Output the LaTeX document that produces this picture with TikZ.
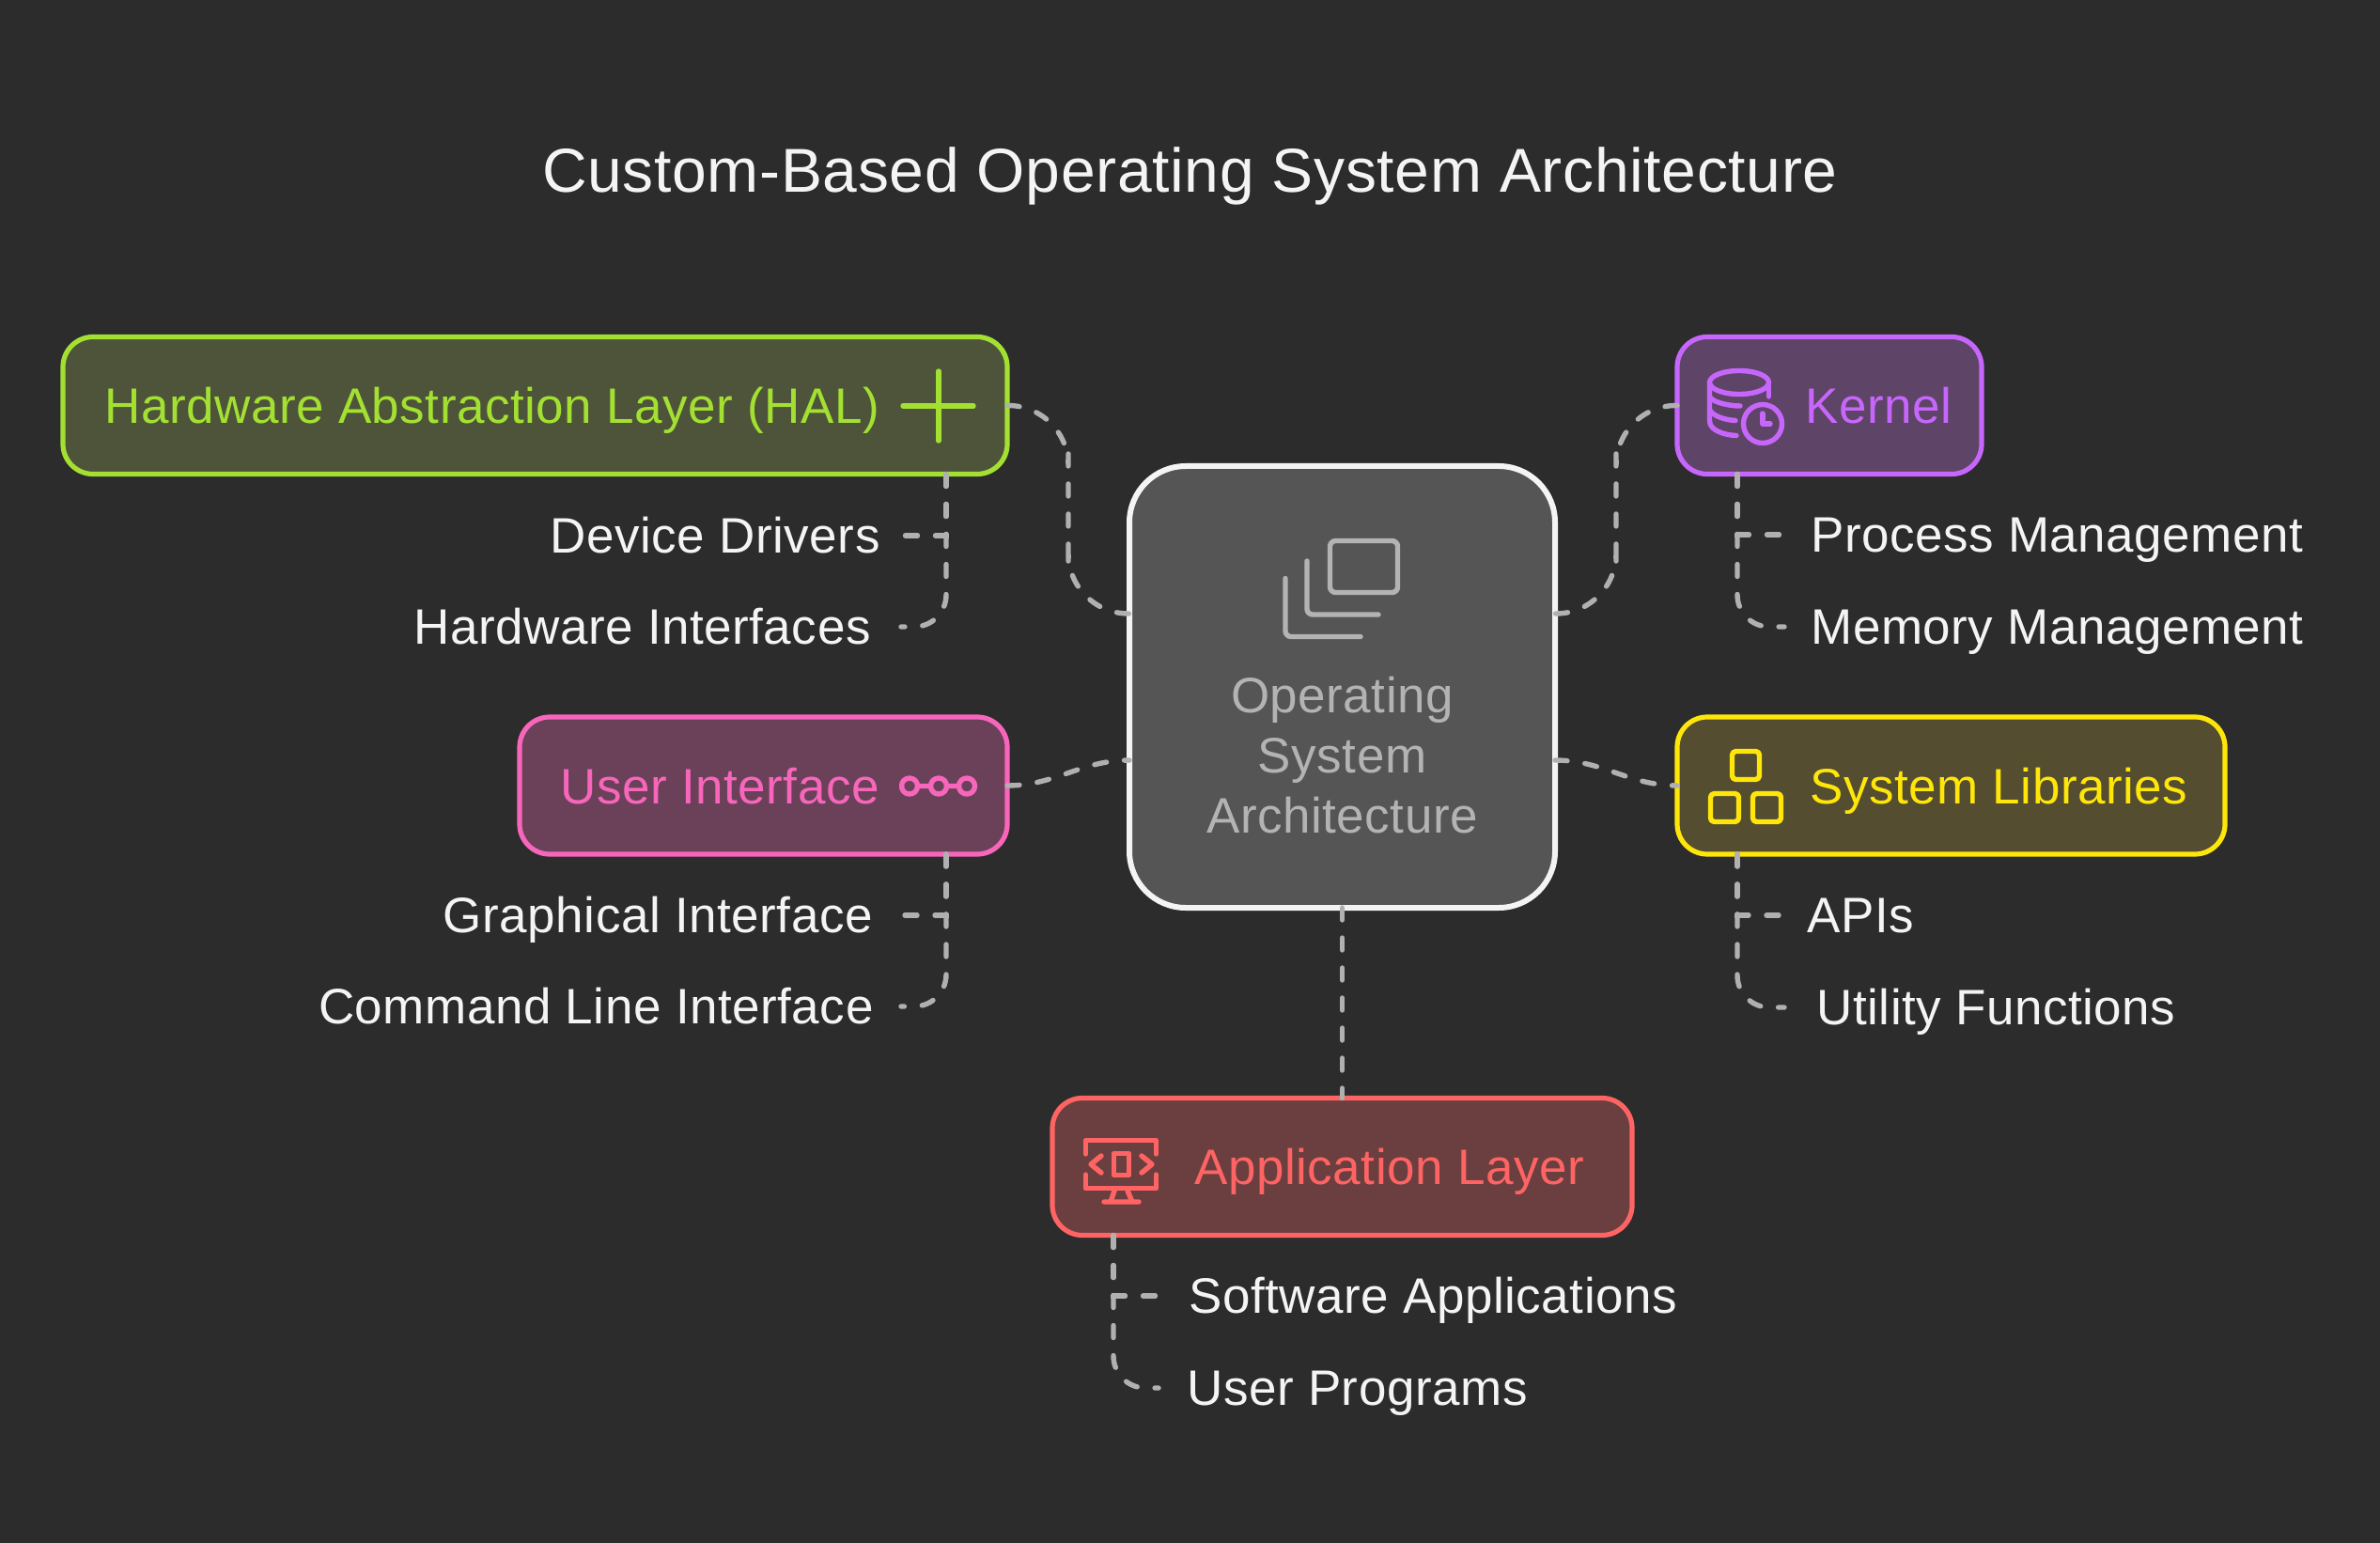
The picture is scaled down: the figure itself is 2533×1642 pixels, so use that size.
\documentclass[tikz,border=0pt]{standalone}
\usepackage{fontspec}
\setmainfont[LetterSpace=1]{Liberation Sans}
\usetikzlibrary{positioning}
\definecolor{bgc}{HTML}{2C2C2C}
\definecolor{dashc}{HTML}{B0B0B0}
\definecolor{subc}{HTML}{F4F4F4}
\definecolor{osc}{HTML}{B3B3B3}
\definecolor{osf}{HTML}{555555}
\definecolor{halc}{HTML}{A3E032}
\definecolor{half}{HTML}{4D5439}
\definecolor{kerc}{HTML}{C766FB}
\definecolor{kerf}{HTML}{5E4466}
\definecolor{libc}{HTML}{FFE60A}
\definecolor{libf}{HTML}{544D2F}
\definecolor{uic}{HTML}{F766BB}
\definecolor{uif}{HTML}{6B415A}
\definecolor{appc}{HTML}{FF6464}
\definecolor{appf}{HTML}{6B3F3F}
\begin{document}
\begin{tikzpicture}[x=0.5pt,y=-0.5pt,
	box/.style = {draw, rounded corners=16pt, line width=2.6pt, inner sep=0pt, outer sep=0pt, minimum height=73pt},
	boxtext/.style = {font=\fontsize{26.5}{32}\selectfont, inner sep=0pt, text height=19pt, text depth=0pt},
	sub/.style = {boxtext, text=subc, text height=18pt},
	conn/.style = {draw=dashc, line width=2.7pt, line cap=round, dash pattern=on 6.5pt off 9.5pt},
	icon/.style = {line width=2.7pt, line cap=round, line join=round}]
	\fill[bgc] (0,0) rectangle (2533,1642);
	\useasboundingbox (0,0) rectangle (2533,1642);
	\node[font=\fontsize{33}{40}\selectfont, text=subc, inner sep=0pt, text height=23.6pt, text depth=0pt] (title) at (1266.5,181) {Custom-Based Operating System Architecture};
	% centre
	\node[draw=subc, fill=osf, rounded corners=30pt, line width=3pt, inner sep=0pt, outer sep=0pt, minimum width=226.5pt, minimum height=235pt] (os) at (1428.5,731) {};
	\node[font=\fontsize{26.5}{32}\selectfont, text=osc, align=center, inner sep=0pt] (oslabel) at (1428.5,804) {Operating\\System\\Architecture};
	\draw[osc, icon, rounded corners=3pt] (1415.5,575.5) rectangle (1487.5,630.5);
	\draw[osc, icon, rounded corners=3pt] (1391,597) -- (1391,654) -- (1467,654);
	\draw[osc, icon, rounded corners=3pt] (1368,615.5) -- (1368,677.5) -- (1448,677.5);
	% boxes
	\node[box, draw=halc, fill=half, minimum width=502.5pt] (hal) at (569.5,431.5) {};
	\node[box, draw=kerc, fill=kerf, minimum width=162pt] (kernel) at (1947,431.5) {};
	\node[box, draw=uic, fill=uif, minimum width=259.5pt] (ui) at (812.5,836) {};
	\node[box, draw=libc, fill=libf, minimum width=291.5pt] (lib) at (2076.5,836) {};
	\node[box, draw=appc, fill=appf, minimum width=308.5pt] (app) at (1428.5,1241.5) {};
	\node[boxtext, text=halc, anchor=west] (hallabel) at (111,431.5) {Hardware Abstraction Layer (HAL)};
	\node[boxtext, text=kerc, anchor=west] (kernellabel) at (1921,431.5) {Kernel};
	\node[boxtext, text=uic, anchor=west] (uilabel) at (596,836) {User Interface};
	\node[boxtext, text=libc, anchor=west] (liblabel) at (1926,836) {System Libraries};
	\node[boxtext, text=appc, anchor=west] (applabel) at (1271,1241.5) {Application Layer};
	% icons
	\draw[halc, icon] (961,432) -- (1036,432) (999,395) -- (999,469);
	\draw[uic, icon] (968,836.5) circle (8.5) (999,836.5) circle (8.5) (1029,836.5) circle (8.5) (976.5,836.5) -- (990.5,836.5) (1007.5,836.5) -- (1020.5,836.5);
	\draw[kerc, icon] (1851,407) ellipse [x radius=31.5, y radius=12.5];
	\draw[kerc, icon] (1882.5,407) -- (1882.5,422);
	\draw[kerc, icon] (1819.5,407) -- (1819.5,448) .. controls (1819.5,458) and (1835,463) .. (1848,463.5);
	\draw[kerc, icon] (1819.5,422) .. controls (1822,428) and (1840,432) .. (1852,432);
	\draw[kerc, icon] (1819.5,436) .. controls (1822,442) and (1835,447) .. (1847,447.5);
	\draw[kerc, icon] (1876,451) circle (20.5);
	\draw[kerc, icon] (1876,440) -- (1876,451) -- (1884,451);
	\draw[libc, icon, rounded corners=2pt] (1843.5,799.5) rectangle (1872.5,829.5);
	\draw[libc, icon, rounded corners=2pt] (1820.5,844.5) rectangle (1850.5,874.5);
	\draw[libc, icon, rounded corners=2pt] (1865.5,844.5) rectangle (1895.5,874.5);
	\draw[appc, icon] (1155.5,1228) -- (1155.5,1213.5) -- (1230.5,1213.5) -- (1230.5,1228);
	\draw[appc, icon] (1155.5,1250) -- (1155.5,1264.5) -- (1230.5,1264.5) -- (1230.5,1250);
	\draw[appc, icon] (1185.5,1227.5) rectangle (1201.5,1250.5);
	\draw[appc, icon] (1172,1230) -- (1161,1239) -- (1172,1248);
	\draw[appc, icon] (1215,1230) -- (1226,1239) -- (1215,1248);
	\draw[appc, icon] (1186,1267) -- (1182,1279) (1200,1267) -- (1205,1279) (1175,1279) -- (1212,1279);
	% main connectors
	\coordinate (osnw) at ([yshift=39pt]os.west);
	\coordinate (ossw) at ([yshift=-39pt]os.west);
	\coordinate (osne) at ([yshift=39pt]os.east);
	\coordinate (osse) at ([yshift=-39pt]os.east);
	\coordinate (halbend) at (1137,540);
	\coordinate (kerbend) at (1720,540);
	\draw[conn, rounded corners=32pt] (hal.east) -| (halbend) |- (osnw);
	\draw[conn, rounded corners=32pt] (kernel.west) -| (kerbend) |- (osne);
	\draw[conn] (ui.east) to[out=0, in=180] (ossw);
	\draw[conn] (osse) to[out=0, in=180] (lib.west);
	\draw[conn] (os.south) -- (app.north);
	% sub items
	\coordinate (halfoot) at ([xshift=-32.5pt]hal.south east);
	\coordinate (uifoot) at ([xshift=-32.5pt]ui.south east);
	\coordinate (kerfoot) at ([xshift=32pt]kernel.south west);
	\coordinate (libfoot) at ([xshift=32pt]lib.south west);
	\coordinate (appfoot) at ([xshift=32.5pt]app.south west);
	\coordinate (ddend) at (959,570);
	\coordinate (hwend) at (959,667);
	\coordinate (giend) at (959,974);
	\coordinate (clend) at (959,1071);
	\coordinate (pmend) at (1897,569);
	\coordinate (mmend) at (1899,667);
	\coordinate (apiend) at (1897,974);
	\coordinate (ufend) at (1899,1072);
	\coordinate (saend) at (1233,1379);
	\coordinate (upend) at (1233,1477);
	\node[sub] (dd) [left=11pt of ddend] {Device Drivers};
	\node[sub] (hw) [left=16pt of hwend] {Hardware Interfaces};
	\node[sub] (gi) [left=15pt of giend] {Graphical Interface};
	\node[sub] (cl) [left=14.5pt of clend] {Command Line Interface};
	\node[sub] (pm) [right=15pt of pmend] {Process Management};
	\node[sub] (mm) [right=14pt of mmend] {Memory Management};
	\node[sub] (api) [right=13pt of apiend] {APIs};
	\node[sub] (uf) [right=17pt of ufend] {Utility Functions};
	\node[sub] (sa) [right=16pt of saend] {Software Applications};
	\node[sub] (up) [right=15pt of upend] {User Programs};
	\draw[conn] (halfoot) |- (ddend);
	\draw[conn, rounded corners=17pt] (halfoot) |- (hwend);
	\draw[conn] (uifoot) |- (giend);
	\draw[conn, rounded corners=17pt] (uifoot) |- (clend);
	\draw[conn] (kerfoot) |- (pmend);
	\draw[conn, rounded corners=17pt] (kerfoot) |- (mmend);
	\draw[conn] (libfoot) |- (apiend);
	\draw[conn, rounded corners=17pt] (libfoot) |- (ufend);
	\draw[conn] (appfoot) |- (saend);
	\draw[conn, rounded corners=17pt] (appfoot) |- (upend);
\end{tikzpicture}
\end{document}
